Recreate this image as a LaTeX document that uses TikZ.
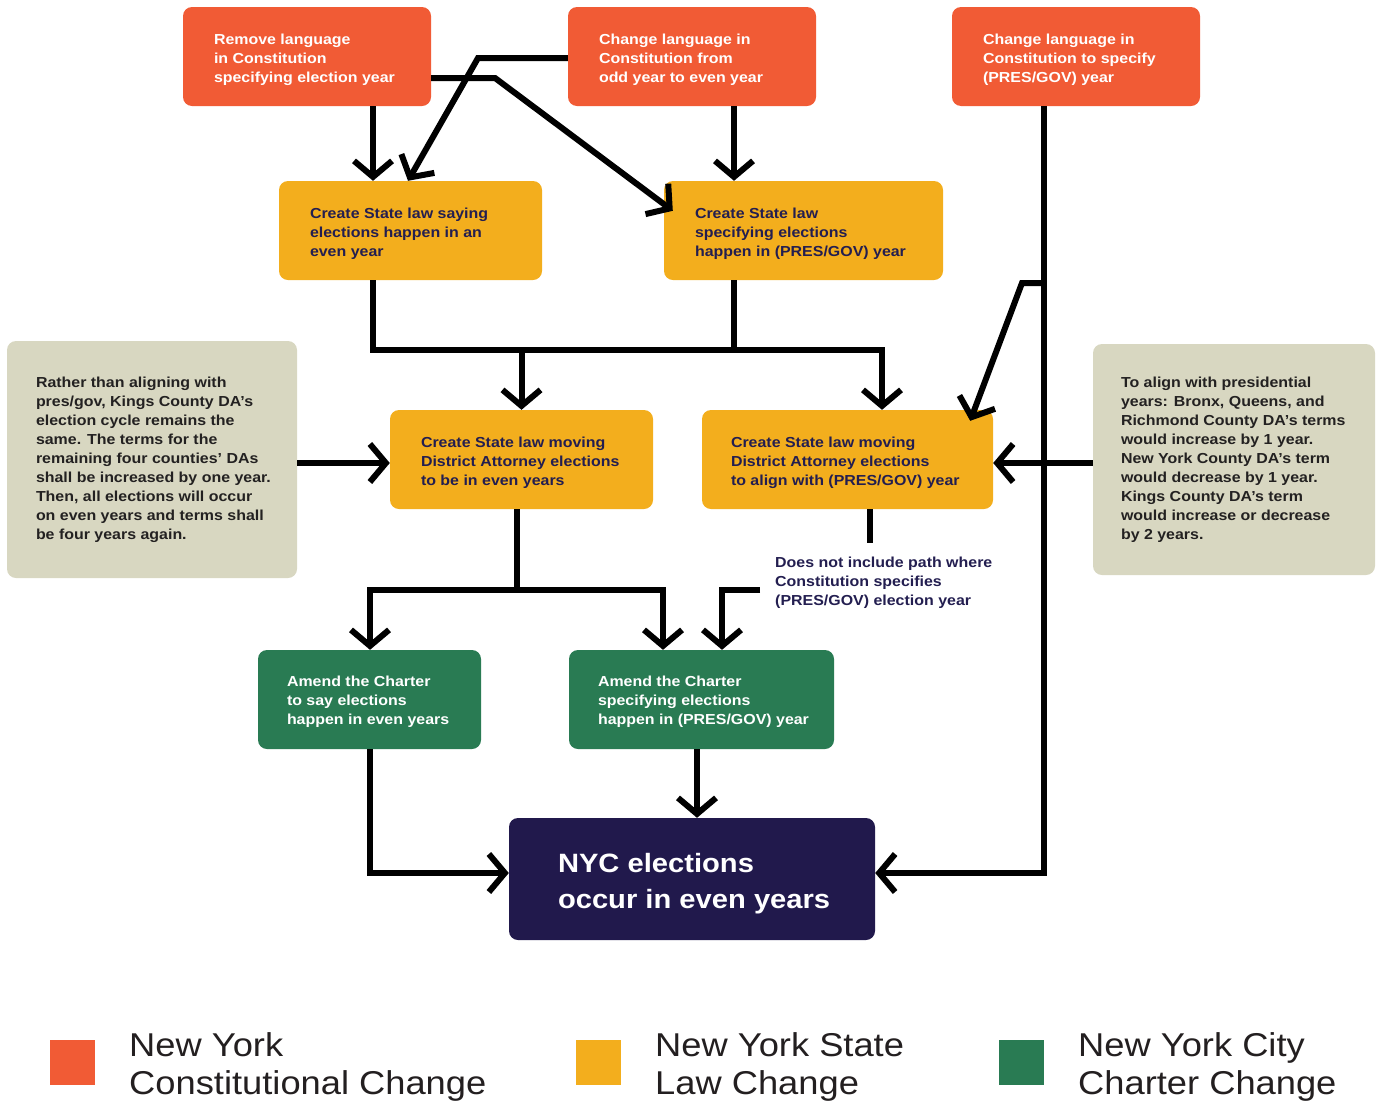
\documentclass[tikz,border=0pt]{standalone}
\usepackage{fontspec}
\setmainfont{Liberation Sans}[FakeStretch=1.1]
\usetikzlibrary{arrows.meta}
\definecolor{corange}{RGB}{241,91,53}
\definecolor{cyellow}{RGB}{243,174,29}
\definecolor{cgreen}{RGB}{41,123,83}
\definecolor{cnavy}{RGB}{33,25,76}
\definecolor{cbeige}{RGB}{216,215,193}
\definecolor{tnavy}{RGB}{35,30,80}
\definecolor{tdark}{RGB}{35,33,33}
\definecolor{tgray}{RGB}{35,31,32}
\newcommand{\bxt}[3][3.5pt]{\raisebox{-#1}[\height][\depth]{\makebox[#2][l]{\begin{tabular}{@{}l@{}}#3\end{tabular}}}}
\tikzset{
  box/.style={rectangle, rounded corners=9pt, inner sep=0pt, minimum height=99pt,
    font=\fontsize{14.5}{19}\selectfont\bfseries},
  cbox/.style={box, fill=corange, text=white},
  sbox/.style={box, fill=cyellow, text=tnavy},
  gbox/.style={box, fill=cgreen, text=white},
  nbox/.style={box, fill=cbeige, text=tdark},
  fbox/.style={box, fill=cnavy, text=white, minimum height=122pt,
    font=\fontsize{26.5}{36}\selectfont\bfseries},
  anntext/.style={inner sep=0pt, anchor=north west, text=tnavy,
    font=\fontsize{14.5}{19}\selectfont\bfseries},
  legsq/.style={rectangle, inner sep=0pt, minimum size=45pt},
  legtext/.style={inner sep=0pt, anchor=north west, text=tgray,
    font=\fontsize{33}{38.5}\selectfont},
  line/.style={draw=black, line width=6pt, line join=miter},
  arr/.style={line, ->},
  arrb/.style={line, <->}
}
\begin{document}
\begin{tikzpicture}[x=1pt, y=-1pt, >={Straight Barb[length=16pt,width=38pt]}]
\useasboundingbox (0,0) rectangle (1378,1101);
% constitution boxes
\node[cbox, minimum width=248pt] (c1) at (307,56.5) {\bxt{186pt}{Remove language\\in Constitution\\specifying election year}};
\node[cbox, minimum width=248pt] (c2) at (692,56.5) {\bxt{186pt}{Change language in\\Constitution from\\odd year to even year}};
\node[cbox, minimum width=248pt] (c3) at (1076,56.5) {\bxt{186pt}{Change language in\\Constitution to specify\\(PRES/GOV) year}};
% state law boxes
\node[sbox, minimum width=263pt] (s1) at (410.5,230.5) {\bxt{201pt}{Create State law saying\\elections happen in an\\even year}};
\node[sbox, minimum width=279pt] (s2) at (803.5,230.5) {\bxt{217pt}{Create State law\\specifying elections\\happen in (PRES/GOV) year}};
\node[sbox, minimum width=263pt] (s3) at (521.5,459.5) {\bxt{201pt}{Create State law moving\\District Attorney elections\\to be in even years}};
\node[sbox, minimum width=291pt] (s4) at (847.5,459.5) {\bxt{233pt}{Create State law moving\\District Attorney elections\\to align with (PRES/GOV) year}};
% notes
\node[nbox, minimum width=290pt, minimum height=237pt] (nl) at (152,459.5) {\bxt[0pt]{232pt}{Rather than aligning with\\pres/gov, Kings County DA’s\\election cycle remains the\\same. The terms for the\\remaining four counties’ DAs\\shall be increased by one year.\\Then, all elections will occur\\on even years and terms shall\\be four years again.}};
\node[nbox, minimum width=282pt, minimum height=231pt] (nr) at (1234,459.5) {\bxt[0pt]{226pt}{To align with presidential\\years: Bronx, Queens, and\\Richmond County DA’s terms\\would increase by 1 year.\\New York County DA’s term\\would decrease by 1 year.\\Kings County DA’s term\\would increase or decrease\\by 2 years.}};
% charter boxes
\node[gbox, minimum width=223pt] (g1) at (369.5,699.5) {\bxt[2pt]{165pt}{Amend the Charter\\to say elections\\happen in even years}};
\node[gbox, minimum width=265pt] (g2) at (701.5,699.5) {\bxt[2pt]{207pt}{Amend the Charter\\specifying elections\\happen in (PRES/GOV) year}};
% final
\node[fbox, minimum width=366pt] (fin) at (692,879) {\bxt[4pt]{268pt}{NYC elections\\occur in even years}};
% annotation
\node[anntext] (ann) at (775,553.7) {\begin{tabular}{@{}l@{}}Does not include path where\\Constitution specifies\\(PRES/GOV) election year\end{tabular}};
% coordinates
\coordinate (a3k) at (495,78);
\coordinate (a4k) at (478,58);
\coordinate (j1) at (373,350);
\coordinate (j2) at (882,350);
\coordinate (j3) at (734,350);
\coordinate (r1) at (1044,283);
\coordinate (r2) at (1022,283);
\coordinate (h1) at (0,463);
\coordinate (stub) at (870,543);
\coordinate (k1) at (370,590);
\coordinate (k2) at (663,590);
\coordinate (k3) at (517,590);
\coordinate (m1) at (760,590);
\coordinate (m2) at (722,590);
\coordinate (m3) at (697,0);
% connectors
\draw[arr] (c1.south -| j1) -- (s1.north -| j1);
\draw[arr] (c2.south -| j3) -- (s2.north -| j3);
\draw[arr] (c1.east |- a3k) -- (a3k) -- ([xshift=9pt,yshift=-30pt]s2.north west);
\draw[arr] (c2.west |- a4k) -- (a4k) -- ([xshift=-2.5pt]s1.north);
\draw[arr] (c3.south -| r1) |- ([yshift=6pt]fin.east);
\draw[arr] (r1) -- (r2) -- ([xshift=-23pt,yshift=-11pt]s4.north east);
\draw[arr] (s1.south -| j1) -- (j1) -- (j2) -- (s4.north -| j2);
\draw[line] (s2.south -| j3) -- (j3);
\draw[arr] (s3.north |- j1) -- (s3.north);
\draw[arr] (nl.east |- h1) -- (s3.west |- h1);
\draw[arr] (nr.west |- h1) -- (s4.east |- h1);
\draw[line] (s4.south -| stub) -- (stub);
\draw[line] (s3.south -| k3) -- (k3);
\draw[arrb] (g1.north -| k1) -- (k1) -- (k2) -- (g2.north -| k2);
\draw[arr] (m1) -- (m2) -- (g2.north -| m2);
\draw[arr] (g2.south -| m3) -- (fin.north -| m3);
\draw[arr] (g1.south) |- ([yshift=6pt]fin.west);
% legend
\node[legsq, fill=corange] (lg1) at (72.5,1062.5) {};
\node[legsq, fill=cyellow] (lg2) at (598.5,1062.5) {};
\node[legsq, fill=cgreen] (lg3) at (1021.5,1062.5) {};
\node[legtext] (lt1) at (129,1029) {\begin{tabular}{@{}l@{}}New York\\Constitutional Change\end{tabular}};
\node[legtext] (lt2) at (655,1029) {\begin{tabular}{@{}l@{}}New York State\\Law Change\end{tabular}};
\node[legtext] (lt3) at (1078,1029) {\begin{tabular}{@{}l@{}}New York City\\Charter Change\end{tabular}};
\end{tikzpicture}
\end{document}
